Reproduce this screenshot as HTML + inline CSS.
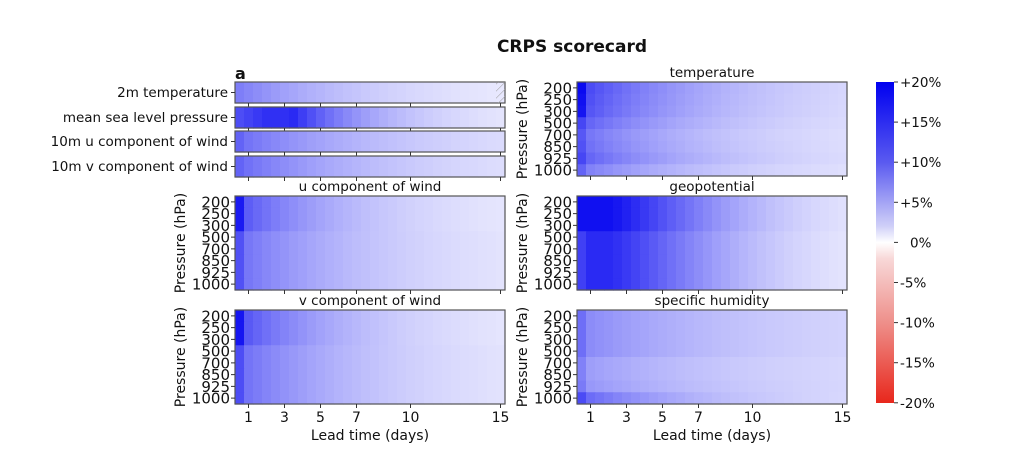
<!DOCTYPE html>
<html><head><meta charset="utf-8"><style>
body{margin:0;background:#fff;width:1024px;height:452px;overflow:hidden}
svg text{font-family:"DejaVu Sans","Liberation Sans",sans-serif;fill:#111}
</style></head><body>
<svg id="s" width="1024" height="452" xmlns="http://www.w3.org/2000/svg">
<defs>
<linearGradient id="cb" x1="0" y1="0" x2="0" y2="1">
<stop offset="0" stop-color="#0000f0"/>
<stop offset="0.25" stop-color="#5a5af0"/>
<stop offset="0.45" stop-color="#d0d0f8"/>
<stop offset="0.5" stop-color="#ffffff"/>
<stop offset="0.55" stop-color="#f8d8d8"/>
<stop offset="0.75" stop-color="#ee8f8a"/>
<stop offset="1" stop-color="#e8271c"/>
</linearGradient>
<pattern id="hatch" width="5" height="5" patternUnits="userSpaceOnUse" patternTransform="rotate(45)">
<line x1="0" y1="0" x2="0" y2="5" stroke="#999" stroke-width="1"/>
</pattern>
</defs>
<text x="572" y="52" font-size="17" font-weight="bold" text-anchor="middle">CRPS scorecard</text>
<text x="235" y="79" font-size="16" font-weight="bold">a</text>
<g id="g"></g>
<rect x="876" y="82" width="18" height="321" fill="url(#cb)"/>
<g font-size="13.5" id="cbt"></g>
</svg>
<script>
const g=document.getElementById('g');let h='';
function col(v){let f=Math.max(0,Math.min(1,v/20));f=Math.pow(f,0.85);let r=Math.round(255*(1-f)*(1-0.05*f)),b=Math.round(255-15*f);return `rgb(${r},${r},${b})`;}
function panel(x0,y0,w,hgt,rows,fn){const n=30,cw=w/n,rh=hgt/rows;
 for(let r=0;r<rows;r++)for(let i=0;i<n;i++){const t=(i+1)*0.5;h+=`<rect x="${(x0+i*cw).toFixed(2)}" y="${(y0+r*rh).toFixed(2)}" width="${(cw+0.6).toFixed(2)}" height="${(rh+0.6).toFixed(2)}" fill="${col(fn(r,t))}"/>`;}
 h+=`<rect x="${x0}" y="${y0}" width="${w}" height="${hgt}" fill="none" stroke="#555" stroke-width="1.2"/>`;
 [1,3,5,7,10,15].forEach(d=>{const x=x0+(d-0.25)*w/15;h+=`<line x1="${x}" y1="${y0+hgt}" x2="${x}" y2="${y0+hgt+4}" stroke="#333"/>`;});}
const L=235,R=577,W=270;
const surf=[{n:'2m temperature',f:t=>8.5*Math.exp(-(t-0.5)/6.5)+0.2},
{n:'mean sea level pressure',f:t=>t<3.5?12+3.5*Math.min(1,t/2):15.5*Math.exp(-(t-3.5)/4)+0.5},
{n:'10m u component of wind',f:t=>(t<1?10.5:9*Math.exp(-(t-1)/7.5))+0.5},
{n:'10m v component of wind',f:t=>(t<1?10.5:9.3*Math.exp(-(t-1)/7))+0.5}];
const sy=[82,107,131,156];
surf.forEach((s,k)=>{panel(L,sy[k],W,21,1,(r,t)=>s.f(t));
 h+=`<line x1="${L-4}" y1="${sy[k]+10.5}" x2="${L}" y2="${sy[k]+10.5}" stroke="#333"/><text x="${L-7}" y="${sy[k]+15}" font-size="13.5" text-anchor="end">${s.n}</text>`;});
h+=`<rect x="496" y="82" width="9" height="21" fill="url(#hatch)"/>`;
const lev=[200,250,300,500,700,850,925,1000];
function lvlpanel(x0,y0,title,fn){panel(x0,y0,W,94,8,fn);
 h+=`<text x="${x0+W/2}" y="${y0-5}" font-size="13.5" text-anchor="middle">${title}</text>`;
 lev.forEach((l,i)=>{const y=y0+(i+0.5)*94/8;h+=`<line x1="${x0-4}" y1="${y}" x2="${x0}" y2="${y}" stroke="#333"/><text x="${x0-5}" y="${y+5.5}" font-size="15" text-anchor="end">${l}</text>`;});
 h+=`<text transform="translate(${x0-50},${y0+47}) rotate(-90)" font-size="14" text-anchor="middle">Pressure (hPa)</text>`;}
function wind(r,t){const up=r<3;let a=up?12.5:10;if(t<1)a+=up?5:2.5;return (a-0.4)*Math.exp(-(t-0.5)/(up?5.5:6.5))+0.4;}
lvlpanel(L,196,'u component of wind',wind);
lvlpanel(L,310,'v component of wind',(r,t)=>wind(r,t)*1.03);
lvlpanel(R,82,'temperature',(r,t)=>{let a=[14,13.5,13,11.5,10,10.5,11.5,9][r];if(t<1)a+=r<3?5:2;return (a-0.8)*Math.exp(-(t-0.5)/6.5)+0.8;});
lvlpanel(R,196,'geopotential',(r,t)=>{let a=r<3?18.5:16;if(t<1&&r>=3)a=14;return t<2?a:(a-0.4)*Math.exp(-Math.pow((t-2)/6,1.3))+0.4;});
lvlpanel(R,310,'specific humidity',(r,t)=>{let a=[8,8,8,8,6.5,6.5,7,11][r];if(t<1)a+=2;return (a-1.3)*Math.exp(-(t-0.5)/(r==7?6:8))+1.3;});
[L,R].forEach(x0=>{[1,3,5,7,10,15].forEach(d=>{const x=x0+(d-0.25)*W/15;h+=`<text x="${x}" y="422" font-size="14" text-anchor="middle">${d}</text>`;});
 h+=`<text x="${x0+W/2}" y="440" font-size="14" text-anchor="middle">Lead time (days)</text>`;});
g.innerHTML=h;
let c='';['+20%','+15%','+10%','+5%','0%','-5%','-10%','-15%','-20%'].forEach((s,i)=>{const y=82+i*40.1;c+=`<line x1="894" y1="${y}" x2="898" y2="${y}" stroke="#333"/><text x="${s=='0%'?910:900}" y="${y+5}">${s}</text>`;});
document.getElementById('cbt').innerHTML=c;
</script>
</body></html>
